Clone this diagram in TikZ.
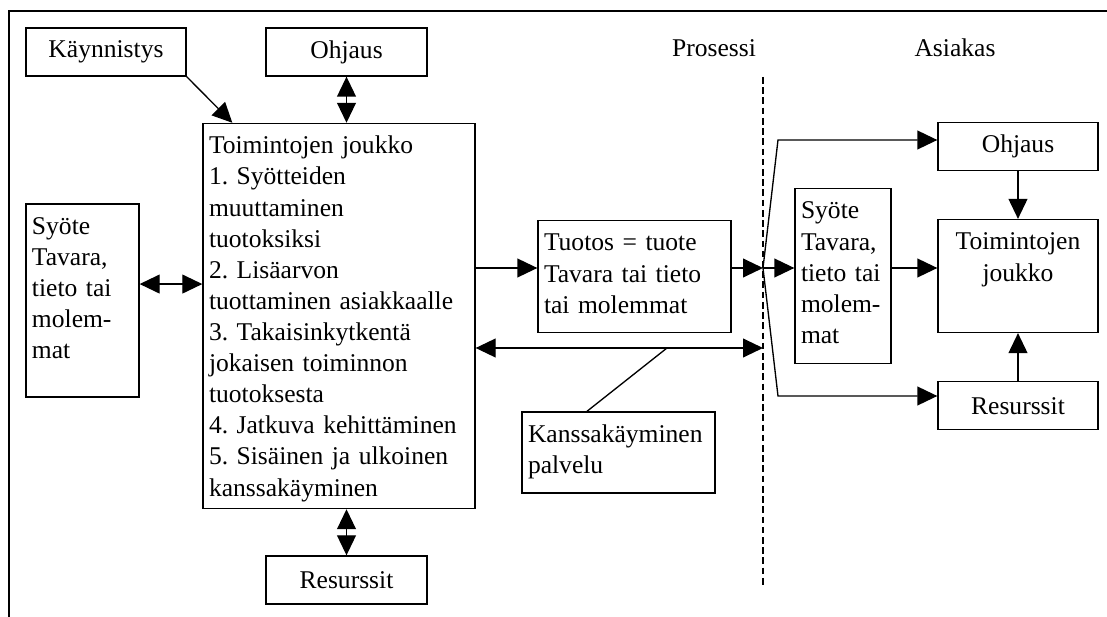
\documentclass[tikz,border=0pt]{standalone}
\usepackage{fontspec}
\setmainfont{Liberation Serif}
\usepackage{tikz}
\usetikzlibrary{
	positioning,
	arrows.meta
}

\tikzset{
	box/.style={draw, line width=0.6pt, rectangle, inner sep=2.7pt},
	linebox/.style={box, minimum width=72pt, minimum height=21.6pt},
	txtbox/.style={box, align=left, text height=11pt},
	arr/.style={line width=0.6pt, -{Triangle[length=9pt,width=8.5pt]}},
	darr/.style={line width=0.6pt, {Triangle[length=9pt,width=8.5pt]}-{Triangle[length=9pt,width=8.5pt]}},
	link/.style={line width=0.6pt}
}

\begin{document}
\frenchspacing
\hyphenpenalty=10000
\begin{tikzpicture}[x=0.45pt, y=-0.45pt, node distance=21.6pt,
	font=\fontsize{11.5}{14}\selectfont]
				
				\useasboundingbox (0,0) rectangle (1107,617);
				
				% frame
				\draw[line width=0.6pt] (9,617) -- (9,11) -- (1107,11);
				
				% prosessi side
				\node[linebox] (kaynnistys) at (106,52) {Käynnistys};
				
				\node[linebox, minimum width=72.45pt] (ohjausL) at (346.5,52) {Ohjaus};
				
				\node[
				txtbox,
				text width=117pt,
				text depth=156.9pt
				]
				(main) at (339,316)
				{Toimintojen joukko\\1. Syötteiden\\muuttaminen\\tuotoksiksi\\2. Lisäarvon\\tuottaminen asiakkaalle\\3. Takaisinkytkentä\\jokaisen toiminnon\\tuotoksesta\\4. Jatkuva kehittäminen\\5. Sisäinen ja ulkoinen\\kanssakäyminen};
				
				\node[
				txtbox,
				text width=45.45pt,
				text depth=70.45pt
				]
				(syoteL) at (82.5,300.5)
				{Syöte\\Tavara,\\tieto tai\\molem-\\mat};
				
				\node[linebox, minimum width=72.45pt] (resL) at (346.5,580) {Resurssit};
				
				\node[
				txtbox,
				text width=81.45pt,
				text depth=33.95pt
				]
				(tuotos) at (634.5,276.5)
				{Tuotos = tuote\\Tavara tai tieto\\tai molemmat};
				
				\node[
				txtbox,
				text width=81.45pt,
				text depth=20.05pt
				]
				(kansa) at (618.5,452.5)
				{Kanssakäyminen\\palvelu};
				
				\node (prosessi) at (714,48) {Prosessi};
				\node (asiakas) at (955,48) {Asiakas};
				
				% asiakas side
				\node[
				txtbox,
				align=center,
				text width=66.6pt,
				text depth=34.4pt
				]
				(toimR) at (1018,276)
				{Toimintojen\\joukko};
				
				\node[linebox, above=of toimR] (ohjausR) {Ohjaus};
				\node[linebox, below=of toimR] (resR) {Resurssit};
				
				\node[
				txtbox,
				text width=37.8pt,
				text depth=62.3pt
				]
				(syoteR) at (843,276)
				{Syöte\\Tavara,\\tieto tai\\molem-\\mat};
				
				\coordinate (fan) at (763,268);
				\coordinate (fanU) at (778,140);
				\coordinate (fanD) at (778,396);
				\coordinate (cut) at (763,348);
				\coordinate (tap) at (667,348);
				\coordinate (dashT) at (763,77);
				\coordinate (dashB) at (763,588);
				\coordinate (inL) at ([yshift=7.4pt]syoteL.east);
				
				\draw[link, dash pattern=on 3pt off 1.6pt] (dashT) -- (dashB);
				
				\draw[arr] (kaynnistys.south east) -- ([xshift=13.5pt]main.north west);
				\draw[darr] (ohjausL.south) -- (ohjausL.south |- main.north);
				\draw[darr] (resL.north |- main.south) -- (resL.north);
				\draw[darr] (inL) -- (inL -| main.west);
				
				\draw[arr] (main.east |- fan) -- (tuotos.west |- fan);
				\draw[arr] (tuotos.east |- fan) -- (fan);
				\draw[darr] (main.east |- cut) -- (cut);
				\draw[link] ([xshift=-14.2pt]kansa.north) -- (tap);
				
				\draw[arr] (fan) -- (syoteR.west |- fan);
				\draw[arr] (fan) -- (fanU) -- (ohjausR.west |- fanU);
				\draw[arr] (fan) -- (fanD) -- (resR.west |- fanD);
				\draw[arr] (syoteR.east |- fan) -- (toimR.west |- fan);
				\draw[arr] (ohjausR) -- (toimR);
				\draw[arr] (resR) -- (toimR);
				
			\end{tikzpicture}
\end{document}
